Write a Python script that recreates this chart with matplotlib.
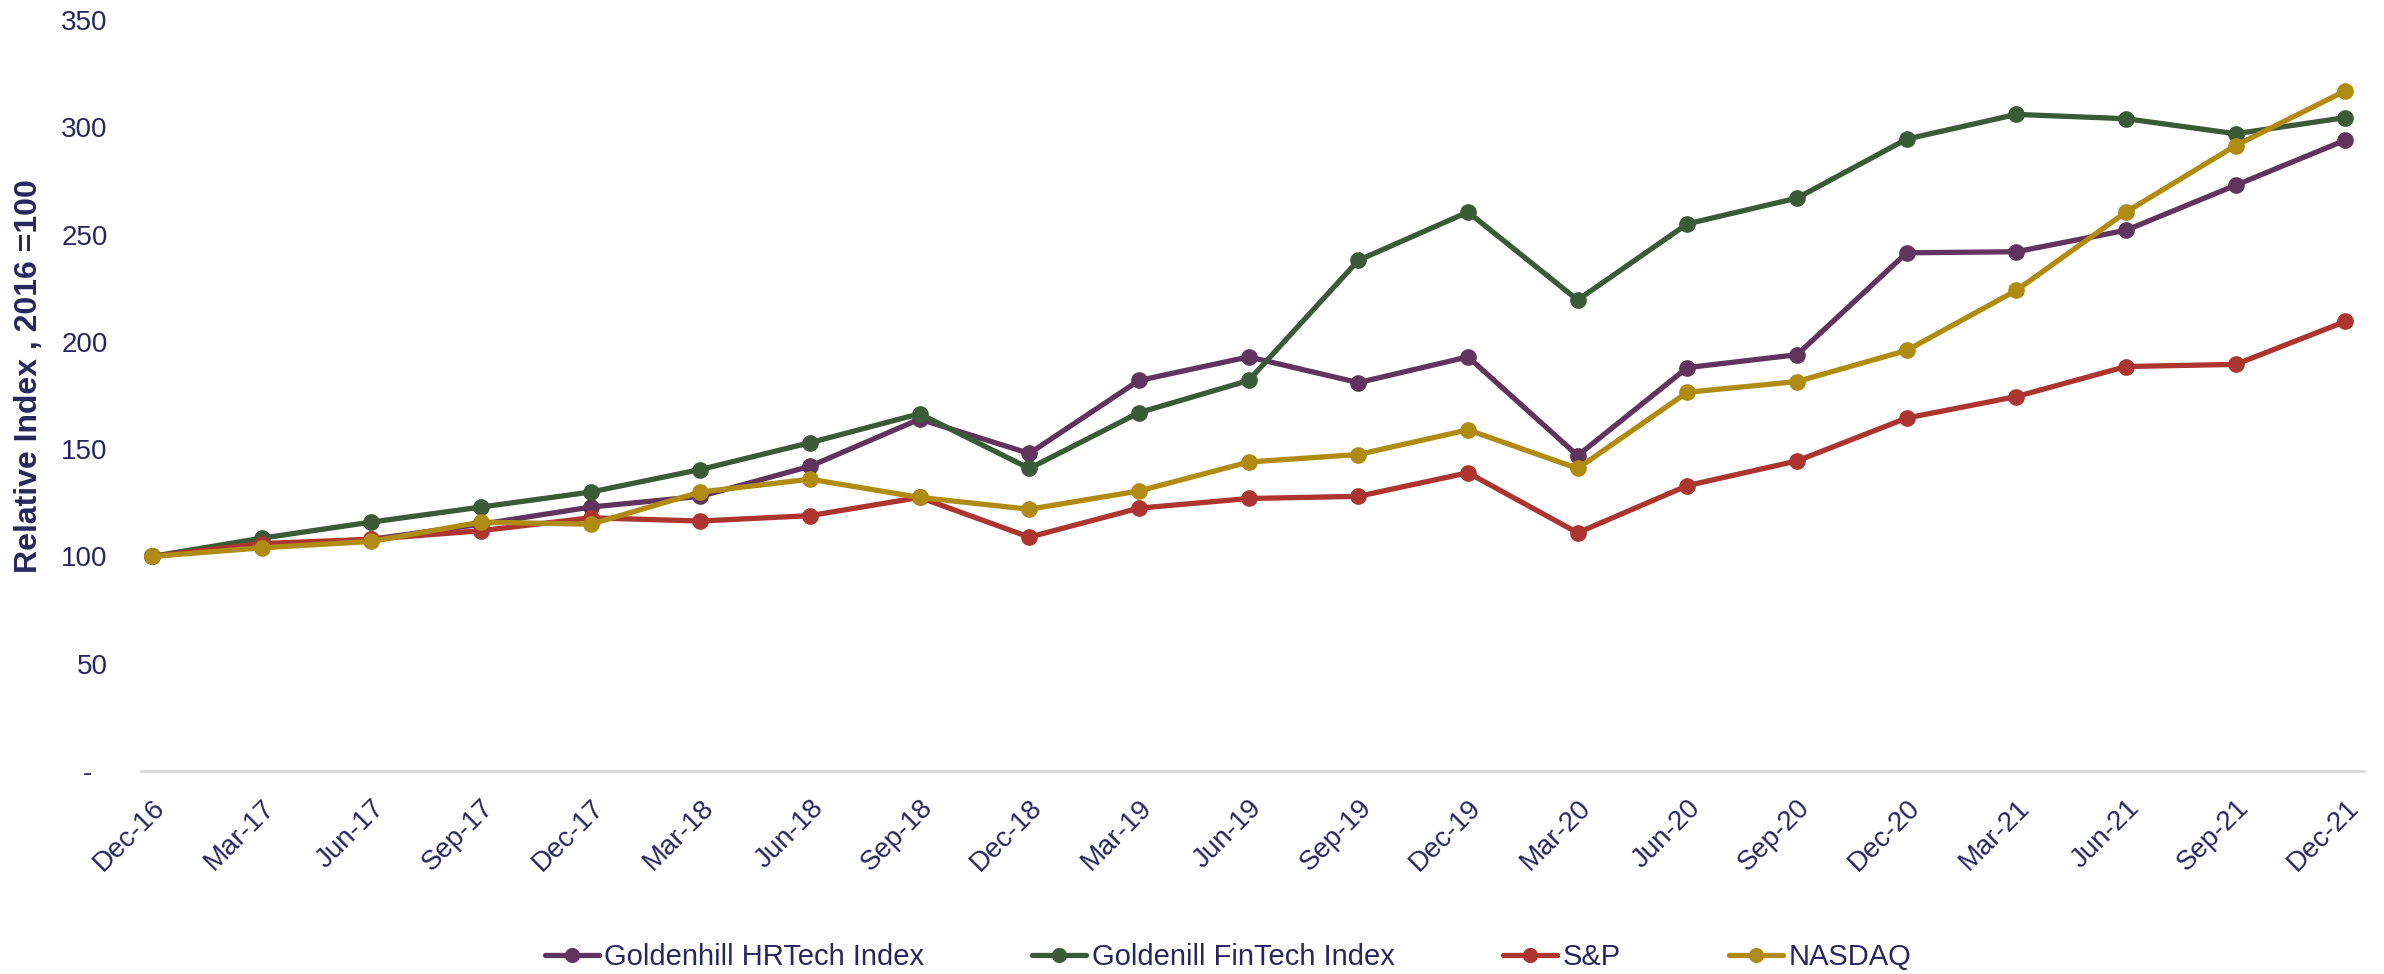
import matplotlib
matplotlib.use("Agg")
import matplotlib.pyplot as plt

plt.rcParams['font.family'] = ['Liberation Sans', 'DejaVu Sans']

dates = ["Dec-16", "Mar-17", "Jun-17", "Sep-17", "Dec-17", "Mar-18", "Jun-18",
         "Sep-18", "Dec-18", "Mar-19", "Jun-19", "Sep-19", "Dec-19", "Mar-20",
         "Jun-20", "Sep-20", "Dec-20", "Mar-21", "Jun-21", "Sep-21", "Dec-21"]

hrtech = [100, 105, 108, 115, 123, 128, 142, 164, 148, 182, 193, 181, 193, 147,
          188, 194, 241.5, 242, 252, 273, 294]
fintech = [100, 108.5, 116, 123, 130, 140.5, 153, 166.5, 141, 167, 182, 238, 260.5,
           219.5, 255, 267, 294.5, 306, 304, 297, 304.5]
sp = [100, 106, 108, 112, 118, 116.5, 119, 127.5, 109, 122.5, 127, 128, 139, 111,
      133, 144.5, 164.5, 174.5, 188.5, 189.5, 209.5]
nasdaq = [100, 104, 107, 116, 115, 130, 136, 127.5, 122, 130.5, 144, 147.5, 159, 141,
          176.5, 181.5, 196, 224, 260.5, 291.5, 317]

series_names = ["Goldenhill HRTech Index", "Goldenill FinTech Index", "S&P", "NASDAQ"]
series_values = [hrtech, fintech, sp, nasdaq]
series_colors = ["#61345E", "#3A5A38", "#AD352F", "#B08B12"]

yticks = [0, 50, 100, 150, 200, 250, 300, 350]
ytick_labels = ["-  ", "50", "100", "150", "200", "250", "300", "350"]

text_color = "#272760"

W, H = 2384, 974
fig = plt.figure(figsize=(W / 100, H / 100), dpi=100)
ax = fig.add_axes([141 / W, 1 - 771 / H, (2364 - 141) / W, (771 - 20) / H])

x = list(range(len(dates)))
for name, vals, col in zip(series_names, series_values, series_colors):
    ax.plot(x, vals, color=col, lw=3.8, marker='o', markersize=11,
            label=name, solid_capstyle='round')

ax.set_ylim(0, 350)
ax.set_xlim(-0.1, len(dates) - 1 + 0.17)
ax.set_yticks(yticks)
ax.set_yticklabels(ytick_labels)
ax.set_xticks(x)
ax.set_xticklabels(dates, rotation=45, ha='right', rotation_mode='anchor')

for s in ['top', 'right', 'left']:
    ax.spines[s].set_visible(False)
ax.spines['bottom'].set_color('#D9D9D9')
ax.spines['bottom'].set_linewidth(2)

ax.tick_params(axis='y', length=0, pad=24, labelsize=20, labelcolor=text_color)
ax.tick_params(axis='x', length=0, pad=17, labelsize=20, labelcolor=text_color)

fig.text(29 / W, 1 - 376 / H, "Relative Index , 2016 =100", rotation=90,
         ha='center', va='center', fontsize=23, fontweight='bold', color=text_color)

leg = fig.legend(loc='center', bbox_to_anchor=(1228 / W, 1 - 957 / H), ncol=4,
                 frameon=False, fontsize=21, handlelength=1.85, handletextpad=0.2,
                 columnspacing=3.7, markerscale=0.9)
for t in leg.get_texts():
    t.set_color(text_color)

fig.savefig("out.png", dpi=100)
